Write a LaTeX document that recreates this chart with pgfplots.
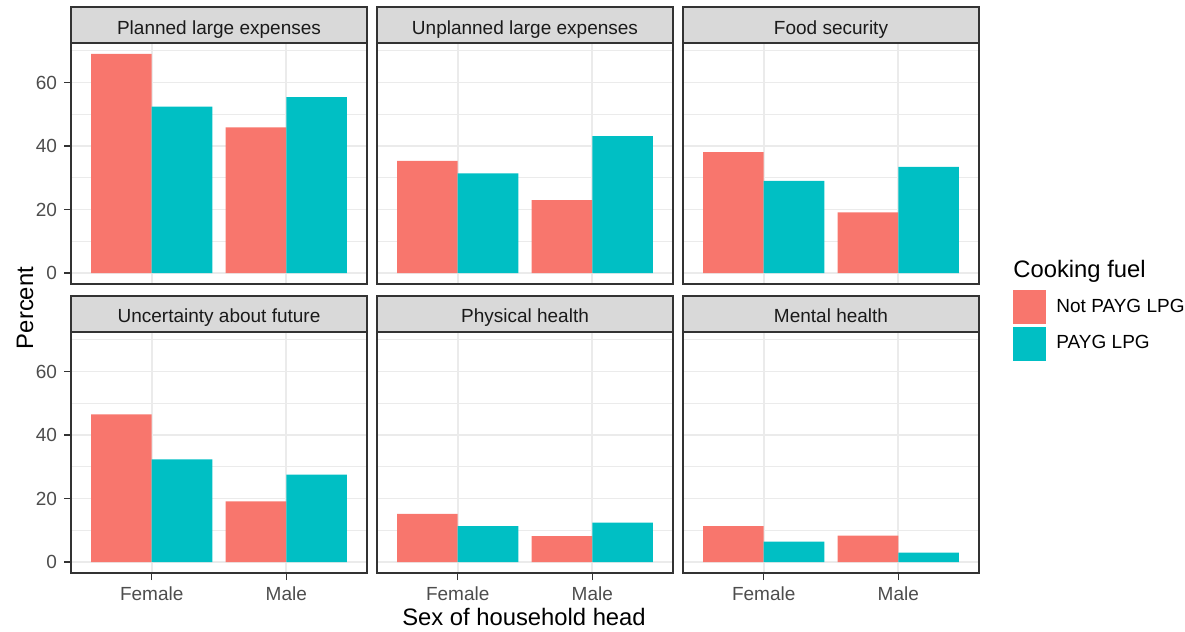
\documentclass[border=0pt]{standalone}
\usepackage{fontspec}
\setmainfont{Liberation Sans}
\usepackage{pgfplots}
\pgfplotsset{compat=1.18}
\definecolor{notpayg}{HTML}{F8766D}
\definecolor{payg}{HTML}{00BFC4}
\definecolor{grid92}{HTML}{EBEBEB}
\definecolor{g20}{HTML}{333333}
\definecolor{g30}{HTML}{4D4D4D}
\definecolor{g85}{HTML}{D9D9D9}
\definecolor{g10}{HTML}{1A1A1A}

\pgfplotsset{
  facet/.style={
    scale only axis, width=148pt, height=120.5pt,
    anchor=north west,
    xmin=0.4, xmax=2.6, ymin=-3.45, ymax=72.45,
    xtick={1,2}, ytick={0,20,40,60}, minor ytick={10,30,50,70},
    xmajorgrids, ymajorgrids, yminorgrids,
    major grid style={grid92, line width=0.8pt},
    minor grid style={grid92, line width=0.45pt},
    axis line style={g20, line width=0.8pt},
    tick align=outside, major tick length=3.5pt, minor tick length=0pt,
    xtick pos=bottom, ytick pos=left,
    xmajorticks=false, ymajorticks=false, yminorticks=false,
    tick style={g20, line width=0.6pt},
    ticklabel style={font=\fontsize{9.5}{11}\selectfont, text=g30},
  },
  lefty/.style={ymajorticks=true, yticklabels={0,20,40,60}},
  bottomx/.style={xmajorticks=true, xticklabels={Female,Male}},
  nb/.style={ybar, bar width=0.45, bar shift=-0.225, fill=notpayg, draw=none},
  pb/.style={ybar, bar width=0.45, bar shift=0.225, fill=payg, draw=none},
}
\newcommand{\strip}[4]{%
  \filldraw[fill=g85, draw=g20, line width=0.8pt] (#1,#2) rectangle ++(148pt,-18pt);
  \node[anchor=base, text=g10, font=\fontsize{9.5}{11}\selectfont] at ([xshift=74pt]#1,#3) {#4};}

\begin{document}
\begin{tikzpicture}
\path[use as bounding box] (0,0) rectangle (592.5pt,-316pt);

% Row 1
\begin{axis}[facet, lefty, at={(35.5pt,-21.5pt)}]
\addplot[nb] coordinates {(1,69.0) (2,45.9)};
\addplot[pb] coordinates {(1,52.4) (2,55.4)};
\end{axis}
\begin{axis}[facet, at={(188.5pt,-21.5pt)}]
\addplot[nb] coordinates {(1,35.3) (2,23.0)};
\addplot[pb] coordinates {(1,31.4) (2,43.1)};
\end{axis}
\begin{axis}[facet, at={(341.5pt,-21.5pt)}]
\addplot[nb] coordinates {(1,38.1) (2,19.1)};
\addplot[pb] coordinates {(1,29.0) (2,33.4)};
\end{axis}

% Row 2
\begin{axis}[facet, lefty, bottomx, at={(35.5pt,-166pt)}]
\addplot[nb] coordinates {(1,46.5) (2,19.1)};
\addplot[pb] coordinates {(1,32.3) (2,27.5)};
\end{axis}
\begin{axis}[facet, bottomx, at={(188.5pt,-166pt)}]
\addplot[nb] coordinates {(1,15.2) (2,8.2)};
\addplot[pb] coordinates {(1,11.3) (2,12.4)};
\end{axis}
\begin{axis}[facet, bottomx, at={(341.5pt,-166pt)},
  legend style={at={(rel axis cs:1.115,1.174)}, anchor=north west, draw=none, fill=none,
    inner sep=0pt, outer sep=0pt, row sep=1.5pt,
    font=\fontsize{9.5}{11}\selectfont,
    /tikz/every odd column/.append style={column sep=3.3pt}},
  legend cell align=left]
\addlegendimage{legend image code/.code={\fill[notpayg] (0pt,-8.25pt) rectangle (16pt,8.25pt);}}
\addlegendentry{Not PAYG LPG}
\addlegendimage{legend image code/.code={\fill[payg] (0pt,-8.25pt) rectangle (16pt,8.25pt);}}
\addlegendentry{PAYG LPG}
\addplot[nb, forget plot] coordinates {(1,11.3) (2,8.3)};
\addplot[pb, forget plot] coordinates {(1,6.4) (2,3.0)};
\end{axis}

% strips
\strip{35.5pt}{-3.5pt}{-17pt}{Planned large expenses}
\strip{188.5pt}{-3.5pt}{-17pt}{Unplanned large expenses}
\strip{341.5pt}{-3.5pt}{-17pt}{Food security}
\strip{35.5pt}{-148pt}{-161pt}{Uncertainty about future}
\strip{188.5pt}{-148pt}{-161pt}{Physical health}
\strip{341.5pt}{-148pt}{-161pt}{Mental health}

% axis titles
\node[rotate=90, anchor=base, font=\fontsize{11.9}{14}\selectfont] at (16.5pt,-154pt) {Percent};
\node[anchor=base, font=\fontsize{11.9}{14}\selectfont] at (262pt,-312.5pt) {Sex of household head};
\node[anchor=base west, inner sep=0pt, font=\fontsize{11.9}{14}\selectfont] at (506.5pt,-138.5pt) {Cooking fuel};
\end{tikzpicture}
\end{document}
